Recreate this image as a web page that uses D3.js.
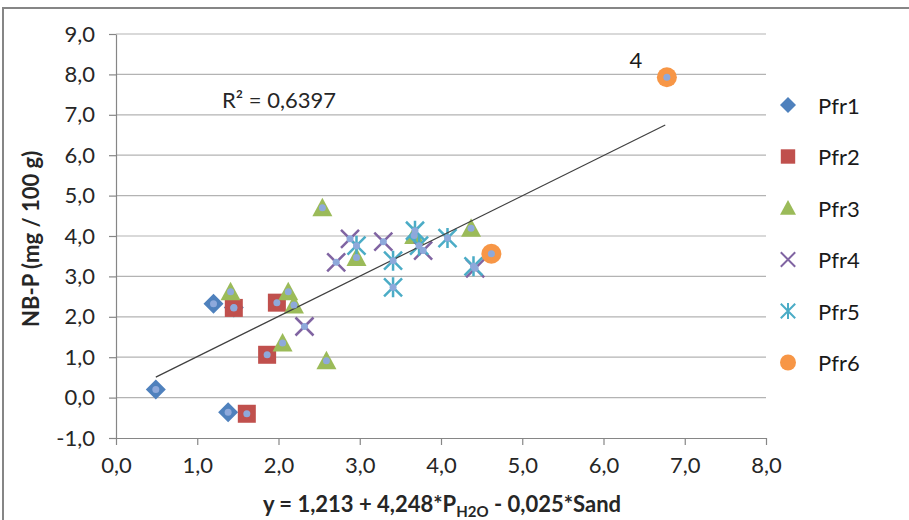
<!DOCTYPE html>
<html>
<head>
<meta charset="utf-8">
<script src="https://cdn.jsdelivr.net/npm/d3@7"></script>
<style>
  body { margin: 0; background: #fff; }
  svg { font-family: Lato, "Open Sans", sans-serif; }
</style>
</head>
<body>
<svg id="chart" width="909" height="520"></svg>
<script>

var width = 909, height = 520

// data: [x, y]
var pfr1 = [[0.49, 0.20], [1.20, 2.32], [1.38, -0.36], [1.45, 2.23]]
var pfr2 = [[1.45, 2.22], [1.98, 2.35], [1.86, 1.06], [1.61, -0.40]]
var pfr3 = [[1.41, 2.62], [2.12, 2.62], [2.19, 2.29], [2.05, 1.35], [2.59, 0.91],
            [2.54, 4.70], [2.96, 3.47], [3.67, 4.01], [4.37, 4.19]]
var pfr4 = [[2.32, 1.76], [2.71, 3.35], [2.88, 3.93], [3.29, 3.86], [3.78, 3.64], [4.42, 3.20]]
var pfr5 = [[2.96, 3.76], [3.41, 3.39], [3.41, 2.73], [3.68, 4.13], [3.73, 3.76], [4.08, 3.95], [4.40, 3.25]]
var pfr6 = [[4.62, 3.56], [6.78, 7.93]]

var seriesNames = ['Pfr1', 'Pfr2', 'Pfr3', 'Pfr4', 'Pfr5', 'Pfr6']
var seriesData = [pfr1, pfr2, pfr3, pfr4, pfr5, pfr6]

var xTicks = [0, 1, 2, 3, 4, 5, 6, 7, 8]
var yTicks = [-1, 0, 1, 2, 3, 4, 5, 6, 7, 8, 9]

// linear trend line as drawn in the picture
var trendIntercept = 0.02
var trendSlope = 0.995
var trendRange = [0.49, 6.76]
var r2Label = 'R² = 0,6397'
var pointLabel = {x: 6.78, y: 7.93, text: '4'}

var colors = ['#4F81BD', '#C0504D', '#9BBB59', '#8064A2', '#4BACC6', '#F79646']
var shapes = ['diamond', 'square', 'triangle', 'cross', 'star', 'circle']

var fontSize = '22px'

var x = d3.scaleLinear().domain([0, 8]).range([116, 766])
var y = d3.scaleLinear().domain([-1, 9]).range([438, 34])

function fmt(v) {
  return v.toFixed(1).replace('.', ',')
}

// draws one marker into a selection, centred on 0,0
function drawMarker(g, shape, color, s) {
  if (shape == 'diamond') {
    g.append('path').attr('d', `M0,${-s}L${s},0L0,${s}L${-s},0Z`).attr('fill', color)
  } else if (shape == 'square') {
    var h = s * 0.9
    g.append('rect').attr('x', -h).attr('y', -h).attr('width', 2 * h).attr('height', 2 * h).attr('fill', color)
  } else if (shape == 'triangle') {
    g.append('path').attr('d', `M0,${-s}L${s},${s * 0.85}L${-s},${s * 0.85}Z`).attr('fill', color)
  } else if (shape == 'cross') {
    var c = s * 0.9
    g.append('path').attr('d', `M${-c},${-c}L${c},${c}M${-c},${c}L${c},${-c}`)
      .attr('stroke', color).attr('stroke-width', s / 4).attr('fill', 'none')
  } else if (shape == 'star') {
    var c = s * 0.9
    g.append('path').attr('d', `M${-c},${-c}L${c},${c}M${-c},${c}L${c},${-c}M0,${-s}L0,${s}`)
      .attr('stroke', color).attr('stroke-width', s / 4).attr('fill', 'none')
  } else {
    g.append('circle').attr('r', s).attr('fill', color)
  }
}

var svg = d3.select('svg#chart')

// outer frame of the chart
svg.append('rect')
  .attr('x', 3).attr('y', 8)
  .attr('width', 1000).attr('height', 1000)
  .attr('fill', 'none').attr('stroke', '#868686').attr('stroke-width', 2)

// horizontal gridlines
svg.append('g').selectAll('line')
  .data(yTicks.filter(d => d > -1))
  .enter().append('line')
  .attr('x1', x(0)).attr('x2', x(8))
  .attr('y1', d => y(d)).attr('y2', d => y(d))
  .attr('stroke', '#B3B3B3').attr('stroke-width', 1.2)

var yAxis = svg.append('g')
  .attr('transform', `translate(${x(0)},0)`)
  .call(d3.axisLeft(y).tickValues(yTicks).tickFormat(fmt).tickSize(7).tickSizeOuter(0).tickPadding(14))

var xAxis = svg.append('g')
  .attr('transform', `translate(0,${y(-1)})`)
  .call(d3.axisBottom(x).tickValues(xTicks).tickFormat(fmt).tickSize(7).tickSizeOuter(0).tickPadding(12))

svg.selectAll('.domain, .tick line').attr('stroke', '#868686').attr('stroke-width', 1.2)
svg.selectAll('.tick text').style('font-size', fontSize).attr('fill', '#262626')
  .style('font-family', 'Lato, "Open Sans", sans-serif')

// axis titles
svg.append('text')
  .attr('transform', `translate(30,${y(3.93)}) rotate(-90)`)
  .attr('text-anchor', 'middle').attr('dominant-baseline', 'central')
  .style('font-size', fontSize).style('font-weight', 'bold').attr('fill', '#262626')
  .text('NB-P (mg / 100 g)')

var xTitle = svg.append('text')
  .attr('x', 442).attr('y', 512)
  .attr('text-anchor', 'middle')
  .style('font-size', fontSize).style('font-weight', 'bold').attr('fill', '#262626')
xTitle.append('tspan').text('y = 1,213 + 4,248*P')
xTitle.append('tspan').attr('dy', 5).style('font-size', '15px').text('H2O')
xTitle.append('tspan').attr('dy', -5).text(' - 0,025*Sand')

// markers
seriesData.forEach(function(pts, i) {
  svg.append('g').attr('class', 'series')
    .selectAll('g')
    .data(pts)
    .enter().append('g')
    .attr('transform', d => `translate(${x(d[0])},${y(d[1])})`)
    .each(function(d) {
      drawMarker(d3.select(this), shapes[i], colors[i], 10)
    })
})

// trend line
svg.append('line')
  .attr('x1', x(trendRange[0])).attr('y1', y(trendIntercept + trendSlope * trendRange[0]))
  .attr('x2', x(trendRange[1])).attr('y2', y(trendIntercept + trendSlope * trendRange[1]))
  .attr('stroke', '#404040').attr('stroke-width', 1.2)

// small centre dots of the combined series
svg.append('g').selectAll('circle')
  .data(d3.merge(seriesData))
  .enter().append('circle')
  .attr('cx', d => x(d[0])).attr('cy', d => y(d[1]))
  .attr('r', 3.5).attr('fill', '#8EA9DB')

svg.append('text')
  .attr('x', 222).attr('y', 108)
  .style('font-size', fontSize).attr('fill', '#262626')
  .text(r2Label)

svg.append('text')
  .attr('x', x(pointLabel.x) - 31).attr('y', y(pointLabel.y) - 9)
  .attr('text-anchor', 'middle')
  .style('font-size', fontSize).attr('fill', '#1a1a1a')
  .text(pointLabel.text)

// legend
var legend = svg.append('g').selectAll('g')
  .data(seriesNames)
  .enter().append('g')
  .attr('transform', (d, i) => `translate(788,${105 + i * 51.5})`)
  .each(function(d, i) {
    drawMarker(d3.select(this), shapes[i], colors[i], 8)
    d3.select(this).append('text')
      .attr('x', 30).attr('dominant-baseline', 'central')
      .style('font-size', fontSize).attr('fill', '#1a1a1a')
      .text(d)
  })

</script>
</body>
</html>
